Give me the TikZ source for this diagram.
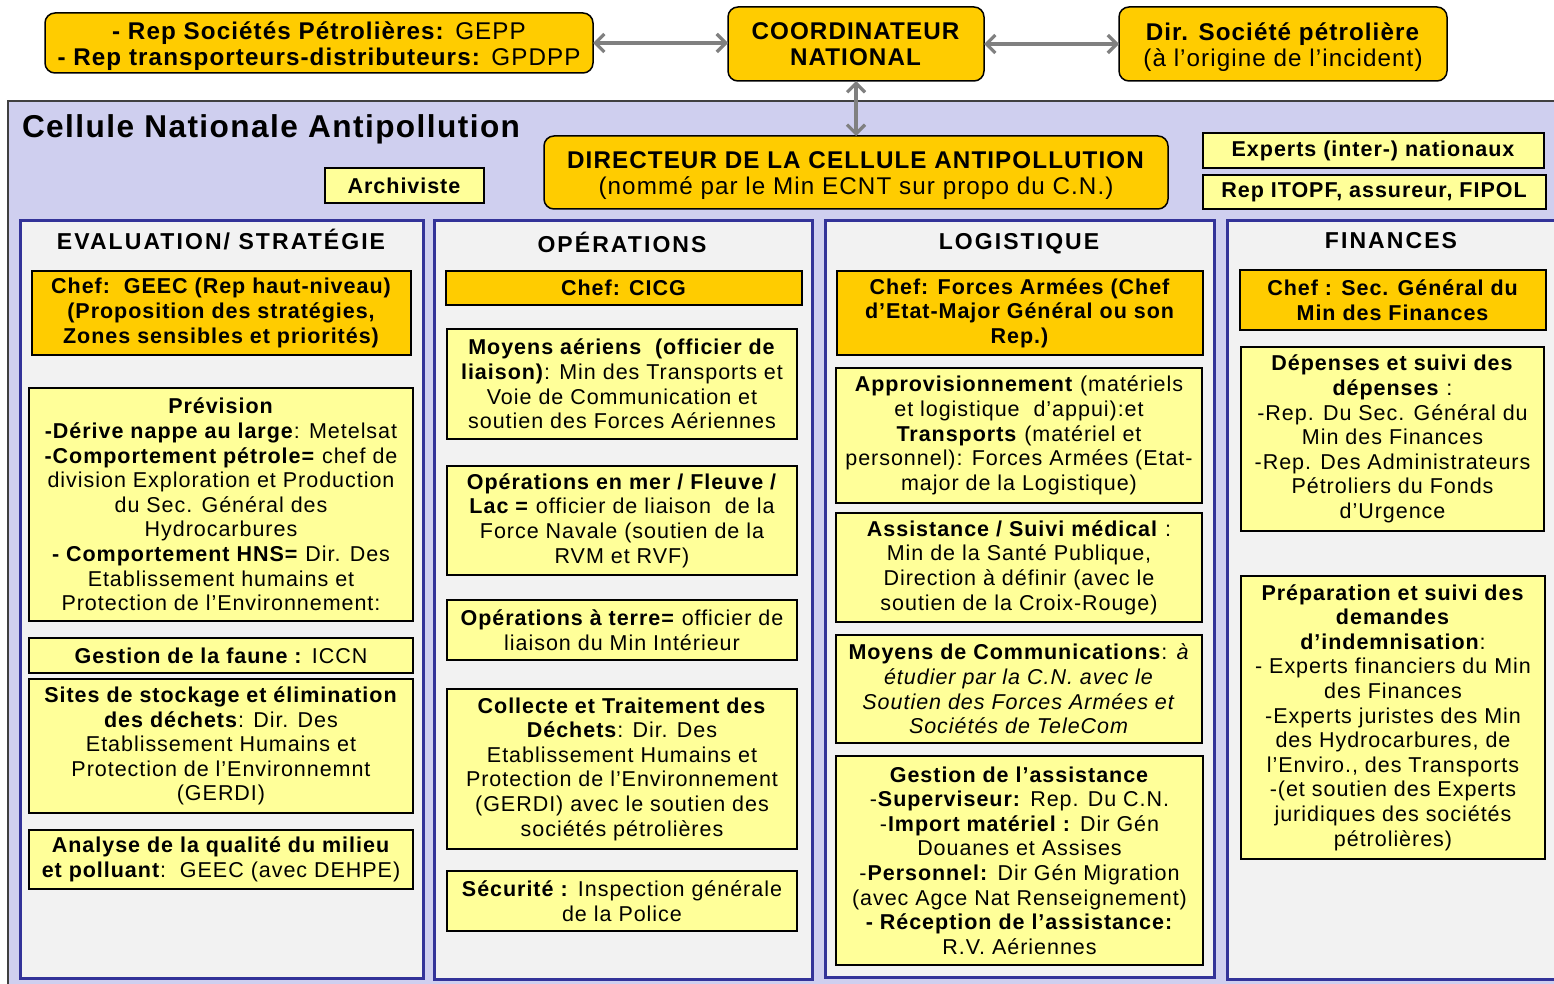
\documentclass[tikz,border=0pt]{standalone}
\usepackage{fontspec}
\setmainfont{Liberation Sans}[LetterSpace=4.5]
\usetikzlibrary{arrows.meta}
\definecolor{orng}{HTML}{FFCC00}
\definecolor{yel}{HTML}{FFFF99}
\definecolor{colbg}{HTML}{F2F2F2}
\definecolor{colbd}{HTML}{333399}
\definecolor{lav}{HTML}{CFCFEF}
\definecolor{arrgray}{HTML}{808080}
\definecolor{frm}{HTML}{404040}
\newcommand\bx[7]{\node[#6, minimum width={#4pt-#2pt}, minimum height={#5pt-#3pt}] (#1) at ({(#2+#4)/2},{(#3+#5)/2}) {#7};}
\newcommand\lowstrut{\rule{0pt}{24pt}}
\begin{document}
\begin{tikzpicture}[x=1pt,y=-1pt,
  base/.style={font=\fontsize{21.5}{24.6}\selectfont, align=center, inner sep=0pt, outer sep=0pt},
  topbox/.style={base, draw=black, fill=orng, line width=1.5pt, rounded corners=10pt},
  bigtxt/.style={font=\fontsize{24.2}{26}\selectfont},
  chefbox/.style={base, draw=black, fill=orng, line width=1.5pt},
  ybox/.style={base, draw=black, fill=yel, line width=1.5pt},
  colbox/.style={base, draw=colbd, fill=colbg, line width=3pt},
  frame/.style={base, draw=frm, fill=lav, line width=1.5pt},
  hdr/.style={base, anchor=base, font=\fontsize{23}{26}\selectfont\bfseries\addfontfeatures{LetterSpace=9}},
  link/.style={draw=arrgray, line width=3.2pt, {Straight Barb[length=9pt,width=18pt]}-{Straight Barb[length=9pt,width=18pt]}}
]
\useasboundingbox (0,0) rectangle (1554,984);
\fill[white] (0,0) rectangle (1554,984);

% outer frame
\bx{cna}{8}{101}{1575}{1000}{frame}{}
\node[base, anchor=west, font=\fontsize{31.6}{36}\selectfont\bfseries] (title) at (22,129) {Cellule Nationale Antipollution};

% top boxes
\bx{gepp}{45}{13}{593}{73}{topbox,bigtxt}{\lowstrut\textbf{- Rep Sociétés Pétrolières:} GEPP\\\textbf{- Rep transporteurs-distributeurs:} GPDPP}
\bx{coord}{728}{7}{984}{81}{topbox,bigtxt}{\textbf{COORDINATEUR}\\\textbf{NATIONAL}}
\bx{dirsoc}{1119}{7}{1447}{81}{topbox,bigtxt}{\lowstrut\textbf{Dir. Société pétrolière}\\(à l’origine de l’incident)}
\bx{dircell}{544}{136}{1168}{209}{topbox,bigtxt}{\lowstrut\textbf{DIRECTEUR DE LA CELLULE ANTIPOLLUTION}\\(nommé par le Min ECNT sur propo du C.N.)}
\bx{archiv}{325}{168}{484}{203}{ybox}{\textbf{Archiviste}}
\bx{experts}{1203}{133}{1544}{168}{ybox}{\textbf{Experts (inter-) nationaux}}
\bx{itopf}{1203}{175}{1546}{209}{ybox}{\textbf{Rep ITOPF, assureur, FIPOL}}

\draw[link] (gepp.east) -- (gepp.east -| coord.west);
\draw[link] (coord.east) -- (coord.east -| dirsoc.west);
\draw[link] (coord.south) -- (dircell.north);

% columns
\bx{col1}{20}{221}{423}{978}{colbox}{}
\bx{col2}{434}{221}{812}{979}{colbox}{}
\bx{col3}{825}{221}{1214}{977}{colbox}{}
\bx{col4}{1227}{221}{1580}{979}{colbox}{}

\node[hdr] (h1) at (221,250) {EVALUATION/ STRATÉGIE};
\node[hdr] (h2) at (622,252) {OPÉRATIONS};
\node[hdr] (h3) at (1019,250) {LOGISTIQUE};
\node[hdr] (h4) at (1391,249) {FINANCES};

% column 1
\bx{c1chef}{32}{271}{411}{355}{chefbox}{\textbf{Chef:\ \ GEEC (Rep haut-niveau)}\\\textbf{(Proposition des stratégies,}\\\textbf{Zones sensibles et priorités)}}
\bx{c1prev}{29}{388}{413}{621}{ybox}{\textbf{Prévision}\\
\textbf{-Dérive nappe au large}: Metelsat\\
\textbf{-Comportement pétrole=} chef de\\
division Exploration et Production\\
du Sec. Général des\\
Hydrocarbures\\
\textbf{- Comportement HNS=} Dir. Des\\
Etablissement humains et\\
Protection de l’Environnement:}
\bx{c1faune}{29}{638}{413}{673}{ybox}{\textbf{Gestion de la faune :} ICCN}
\bx{c1sites}{29}{679}{413}{813}{ybox}{\textbf{Sites de stockage et élimination}\\
\textbf{des déchets}: Dir. Des\\
Etablissement Humains et\\
Protection de l’Environnemnt\\
(GERDI)}
\bx{c1anal}{29}{830}{413}{889}{ybox}{\textbf{Analyse de la qualité du milieu}\\
\textbf{et polluant}:\ \ GEEC (avec DEHPE)}

% column 2
\bx{c2chef}{446}{271}{802}{305}{chefbox}{\textbf{Chef: CICG}}
\bx{c2air}{447}{329}{797}{439}{ybox}{\textbf{Moyens aériens\ \ (officier de}\\
\textbf{liaison)}: Min des Transports et\\
Voie de Communication et\\
soutien des Forces Aériennes}
\bx{c2mer}{447}{466}{797}{575}{ybox}{\textbf{Opérations en mer / Fleuve /}\\
\textbf{Lac =} officier de liaison\ \ de la\\
Force Navale (soutien de la\\
RVM et RVF)}
\bx{c2terre}{447}{600}{797}{660}{ybox}{\textbf{Opérations à terre=} officier de\\
liaison du Min Intérieur}
\bx{c2coll}{447}{689}{797}{849}{ybox}{\textbf{Collecte et Traitement des}\\
\textbf{Déchets}: Dir. Des\\
Etablissement Humains et\\
Protection de l’Environnement\\
(GERDI) avec le soutien des\\
sociétés pétrolières}
\bx{c2secu}{447}{871}{797}{931}{ybox}{\textbf{Sécurité :} Inspection générale\\
de la Police}

% column 3
\bx{c3chef}{837}{271}{1203}{355}{chefbox}{\textbf{Chef: Forces Armées (Chef}\\\textbf{d’Etat-Major Général ou son}\\\textbf{Rep.)}}
\bx{c3appro}{836}{368}{1202}{503}{ybox}{\textbf{Approvisionnement} (matériels\\
et logistique\ \ d’appui):et\\
\textbf{Transports} (matériel et\\
personnel): Forces Armées (Etat-\\
major de la Logistique)}
\bx{c3med}{836}{513}{1202}{622}{ybox}{\textbf{Assistance / Suivi médical} :\\
Min de la Santé Publique,\\
Direction à définir (avec le\\
soutien de la Croix-Rouge)}
\bx{c3comm}{836}{635}{1202}{743}{ybox}{\textbf{Moyens de Communications}: \textit{à}\\
\textit{étudier par la C.N. avec le}\\
\textit{Soutien des Forces Armées et}\\
\textit{Sociétés de TeleCom}}
\bx{c3assist}{836}{756}{1203}{965}{ybox}{\textbf{Gestion de l’assistance}\\
-\textbf{Superviseur:} Rep. Du C.N.\\
-\textbf{Import matériel :} Dir Gén\\
Douanes et Assises\\
-\textbf{Personnel:} Dir Gén Migration\\
(avec Agce Nat Renseignement)\\
\textbf{- Réception de l’assistance:}\\
R.V. Aériennes}

% column 4
\bx{c4chef}{1240}{270}{1546}{330}{chefbox}{\textbf{Chef : Sec. Général du}\\\textbf{Min des Finances}}
\bx{c4dep}{1241}{347}{1544}{531}{ybox}{\textbf{Dépenses et suivi des}\\
\textbf{dépenses} :\\
-Rep. Du Sec. Général du\\
Min des Finances\\
-Rep. Des Administrateurs\\
Pétroliers du Fonds\\
d’Urgence}
\bx{c4prep}{1241}{576}{1545}{859}{ybox}{\textbf{Préparation et suivi des}\\
\textbf{demandes}\\
\textbf{d’indemnisation}:\\
- Experts financiers du Min\\
des Finances\\
-Experts juristes des Min\\
des Hydrocarbures, de\\
l’Enviro., des Transports\\
-(et soutien des Experts\\
juridiques des sociétés\\
pétrolières)}
\end{tikzpicture}
\end{document}
